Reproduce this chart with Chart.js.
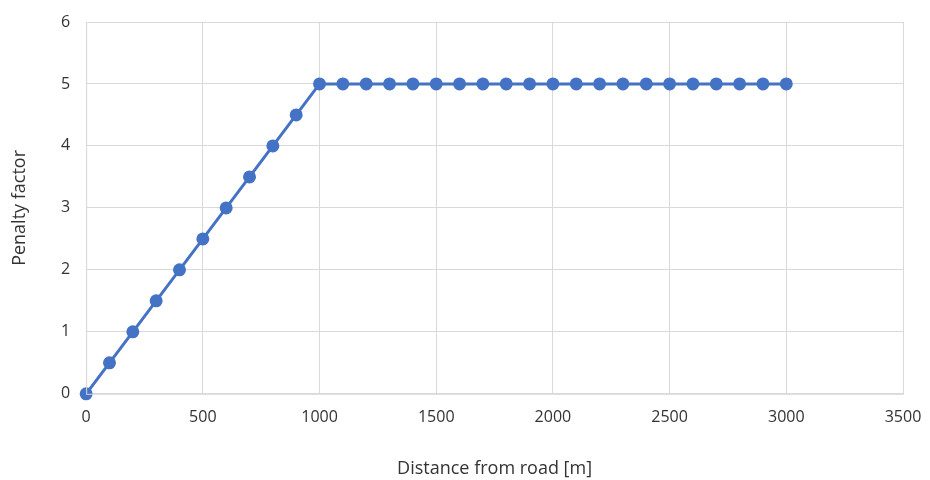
<!DOCTYPE html>
<html lang="en">
<head>
  <meta charset="UTF-8"/>
  <title>Penalty factor vs distance from road</title>
  <script src="https://cdn.jsdelivr.net/npm/chart.js"></script>
  <style>
    body { margin: 0; background: #fff; }
    canvas { display: block; }
  </style>
</head>
<body>
  <canvas id="chart" width="930" height="480"></canvas>

  <script>
    // distance from road [m]
    const distances = [0, 100, 200, 300, 400, 500, 600, 700, 800, 900, 1000,
      1100, 1200, 1300, 1400, 1500, 1600, 1700, 1800, 1900, 2000,
      2100, 2200, 2300, 2400, 2500, 2600, 2700, 2800, 2900, 3000];
    // penalty factor
    const penalties = [0, 0.5, 1, 1.5, 2, 2.5, 3, 3.5, 4, 4.5, 5,
      5, 5, 5, 5, 5, 5, 5, 5, 5, 5,
      5, 5, 5, 5, 5, 5, 5, 5, 5, 5];

    const blue = '#4472C4';
    const tickFont = { family: 'Open Sans', size: 16 };
    const yTickFont = { family: 'Open Sans', size: 16, lineHeight: 1 };
    const titleFont = { family: 'Open Sans', size: 18, lineHeight: 1 };
    const grid = '#d9d9d9';

    let ctx = document.getElementById('chart').getContext('2d');
    new Chart(ctx, {
      type: 'scatter',
      data: {
        datasets: [{
          data: distances.map((d, i) => ({ x: d, y: penalties[i] })),
          showLine: true,
          clip: false,
          borderColor: blue,
          backgroundColor: blue,
          borderWidth: 3,
          pointRadius: 5,
          pointHoverRadius: 5
        }]
      },
      options: {
        responsive: false,
        animation: false,
        layout: { padding: { left: 11, right: 27, top: 22, bottom: 2 } },
        plugins: { legend: { display: false }, tooltip: { enabled: false } },
        scales: {
          x: {
            min: 0, max: 3500,
            afterFit: s => { s.paddingRight = 0; },
            ticks: { stepSize: 500, font: tickFont, color: '#333', padding: 14,
              callback: v => String(v) },
            grid: { color: grid, drawTicks: false },
            border: { color: grid },
            title: { display: true, text: 'Distance from road [m]',
              font: titleFont, color: '#333', padding: { top: 19, bottom: 0 } }
          },
          y: {
            min: 0, max: 6,
            afterFit: s => { s.paddingTop = 0; },
            ticks: { stepSize: 1, font: yTickFont, color: '#333', padding: 16 },
            grid: { color: grid, drawTicks: false },
            border: { color: grid },
            title: { display: true, text: 'Penalty factor',
              font: titleFont, color: '#333', padding: { top: 0, bottom: 16 } }
          }
        }
      },
      plugins: [{
        id: 'frame',
        afterDraw(c) {
          const a = c.chartArea, g = c.ctx;
          g.save();
          g.strokeStyle = grid;
          g.lineWidth = 1;
          g.strokeRect(a.left + 0.5, a.top + 0.5, a.right - a.left, a.bottom - a.top);
          g.restore();
        }
      }]
    });
  </script>
</body>
</html>
